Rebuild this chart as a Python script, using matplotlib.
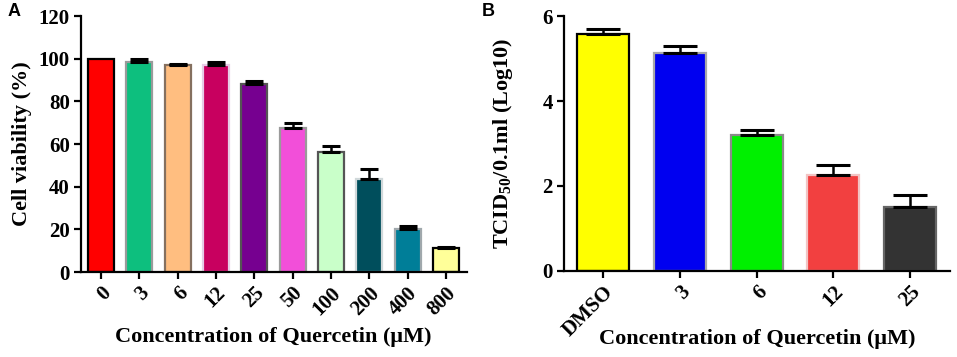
import numpy as np
import matplotlib
matplotlib.use('Agg')
from matplotlib import pyplot as plt

plt.rcParams['font.family'] = 'Liberation Serif'
plt.rcParams['font.weight'] = 'bold'
plt.rcParams['axes.labelweight'] = 'bold'
plt.rcParams['mathtext.fontset'] = 'custom'
plt.rcParams['mathtext.rm'] = 'Liberation Serif:bold'
plt.rcParams['mathtext.it'] = 'Liberation Serif:bold'
plt.rcParams['mathtext.bf'] = 'Liberation Serif:bold'

# panel A data
conc_a = ['0', '3', '6', '12', '25', '50', '100', '200', '400', '800']
viab = [100, 98.4, 97.1, 97.0, 88.1, 67.7, 56.3, 43.7, 20.2, 11.1]
viab_err = [0, 1.4, 0.5, 1.4, 1.3, 2.2, 2.7, 4.6, 1.2, 0.6]
colors_a = ['#FF0000', '#0DBF7E', '#FFBE80', '#C8005F', '#760090',
            '#F24FD9', '#C9FFC9', '#004E5C', '#007E98', '#FFFF99']
edges_a = ['#000000', '#9A9A9A', '#85705F', '#E6CCE6', '#555555',
           '#9A9A9A', '#555555', '#D0D8DA', '#A0A8AC', '#000000']

# panel B data
conc_b = ['DMSO', '3', '6', '12', '25']
tcid = [5.58, 5.14, 3.21, 2.27, 1.51]
tcid_err = [0.11, 0.16, 0.10, 0.23, 0.27]
colors_b = ['#FFFF00', '#0000F0', '#00F000', '#F24040', '#333333']
edges_b = ['#000000', '#A8A8A8', '#8A8A8A', '#F2C4C4', '#666666']

fig = plt.figure(figsize=(9.57, 3.57), dpi=100)
ax1 = fig.add_axes([0.0846, 0.238, 0.4034, 0.717])
ax2 = fig.add_axes([0.5893, 0.241, 0.4034, 0.714])


def style(ax):
    for s in ['top', 'right']:
        ax.spines[s].set_visible(False)
    for s in ['left', 'bottom']:
        ax.spines[s].set_linewidth(1.6)
    ax.tick_params(width=1.6, length=5, labelsize=15, pad=3)


def up_err(ax, xs, vals, errs, cap):
    xs, vals, errs = np.array(xs), np.array(vals), np.array(errs)
    m = errs > 0
    ax.errorbar(xs[m], vals[m], yerr=[np.zeros(m.sum()), errs[m]], fmt='none',
                ecolor='black', elinewidth=1.8, capsize=cap, capthick=2.2, zorder=3)


x = np.arange(len(conc_a))
ax1.bar(x, viab, width=0.68, color=colors_a, edgecolor=edges_a, linewidth=1.6, zorder=2)
up_err(ax1, x, viab, viab_err, 6.5)
ax1.set_xlim(-0.52, len(x) - 0.45)
ax1.set_ylim(0, 120)
ax1.set_yticks([0, 20, 40, 60, 80, 100, 120])
ax1.set_xticks(x)
ax1.set_xticklabels(conc_a, rotation=45, ha='right', rotation_mode='anchor')
ax1.set_ylabel('Cell viability (%)', fontsize=16, va='center')
ax1.yaxis.set_label_coords(-0.153, 0.5)
ax1.set_xlabel('Concentration of Quercetin (\u03bcM)', fontsize=16, va='center')
ax1.xaxis.set_label_coords(0.499, -0.254)
style(ax1)

xb = np.arange(len(conc_b))
ax2.bar(xb, tcid, width=0.68, color=colors_b, edgecolor=edges_b, linewidth=1.6, zorder=2)
up_err(ax2, xb, tcid, tcid_err, 12.5)
ax2.set_xlim(-0.51, len(xb) - 0.48)
ax2.set_ylim(0, 6)
ax2.set_yticks([0, 2, 4, 6])
ax2.set_xticks(xb)
ax2.set_xticklabels(conc_b, rotation=45, ha='right', rotation_mode='anchor')
ax2.set_ylabel('TCID$_{50}$/0.1ml (Log10)', fontsize=16, va='center')
ax2.yaxis.set_label_coords(-0.158, 0.5)
ax2.set_xlabel('Concentration of Quercetin (\u03bcM)', fontsize=16, va='center')
ax2.xaxis.set_label_coords(0.5, -0.267)
style(ax2)

fig.text(0.008, 0.955, 'A', fontsize=13, fontweight='bold', family='Liberation Sans')
fig.text(0.503, 0.955, 'B', fontsize=13, fontweight='bold', family='Liberation Sans')

fig.savefig('out.png', dpi=100)
